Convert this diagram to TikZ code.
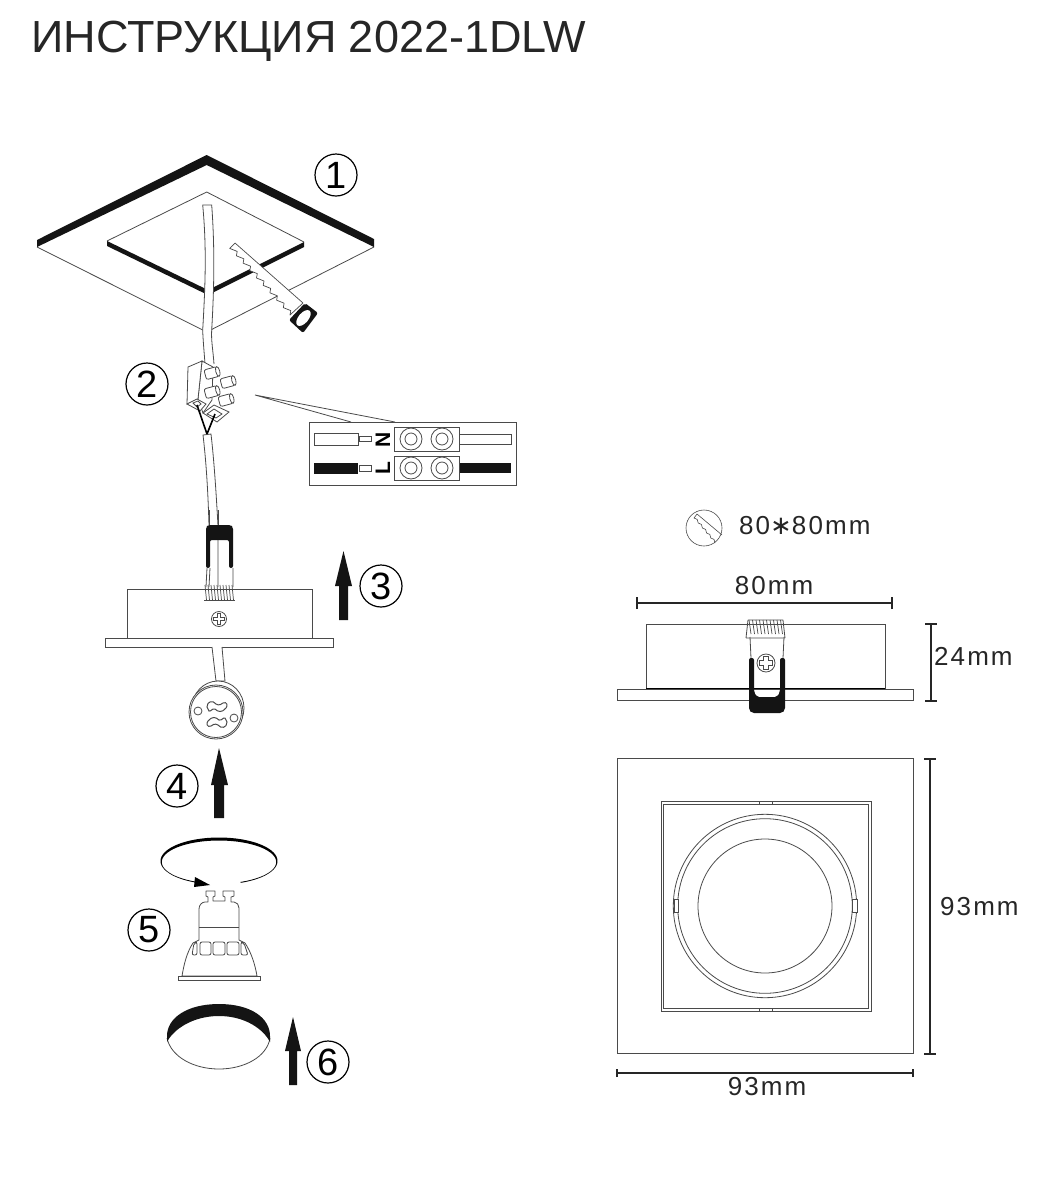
\documentclass[tikz,border=0pt]{standalone}
\usepackage{fontspec}
\setmainfont{Liberation Sans}
\newfontfamily\spaced[LetterSpace=8]{Liberation Sans}
\newfontfamily\symfont{DejaVu Sans}
\usetikzlibrary{shapes.geometric}
\definecolor{ln}{HTML}{4A4A4A}
\tikzset{
 thin line/.style={draw=ln,line width=0.8pt},
 wht/.style={thin line,fill=white},
 blk/.style={fill=black!92,draw=none},
 num/.style={circle,draw=black,line width=1.2pt,minimum size=42pt,inner sep=0pt,font=\fontsize{38}{38}\selectfont},
 dimtxt/.style={font=\spaced\fontsize{26}{26}\selectfont,inner sep=0pt,text=black!85},
 dimln/.style={draw=black!85,line width=1.3pt},
 screwpic/.pic={
  \draw[wht] (0,0) circle [radius=#1];
  \draw[thin line,fill=white] (-.25*#1,-.7*#1) -- (.25*#1,-.7*#1) -- (.25*#1,-.25*#1) -- (.7*#1,-.25*#1) -- (.7*#1,.25*#1) -- (.25*#1,.25*#1) -- (.25*#1,.7*#1) -- (-.25*#1,.7*#1) -- (-.25*#1,.25*#1) -- (-.7*#1,.25*#1) -- (-.7*#1,-.25*#1) -- (-.25*#1,-.25*#1) -- cycle;
 },
 termpic/.pic={
  \draw[wht,rounded corners=2pt] (-7,-5) rectangle (6,5);
  \draw[wht] (6,0) ellipse [x radius=2,y radius=5];
 },
 beanpic/.pic={
  \draw[wht,line width=1pt] (-10,0) .. controls (-10,-6) and (-4,-7) .. (-1,-3) .. controls (2,-1) and (5,-3) .. (6,-4) .. controls (10,-6) and (11,-1) .. (9,1) .. controls (5,6) and (1,5) .. (-2,2) .. controls (-5,1) and (-6,5) .. (-8,4) -- cycle;
 },
 termblock/.pic={
  \draw[wht] (-32.5,-12) rectangle (32.5,12);
  \foreach \cx in {-15.5,15.5}{
   \draw[thin line] (\cx,0) circle [radius=11];
   \draw[thin line] (\cx,0) circle [radius=6];
  }
 },
}
\begin{document}
\begin{tikzpicture}[x=1pt,y=-1pt]
\useasboundingbox[fill=white] (0,0) rectangle (1040,1200);
% title
\node[anchor=base west,inner sep=0pt,font=\fontsize{45}{45}\selectfont,text=black!85] (title) at (31,52) {ИНСТРУКЦИЯ 2022-1DLW};

% ---- step 1: ceiling
\draw[thin line] (37,247) -- (206.7,332) -- (374,247);
\fill[blk] (37,240) -- (206.7,155) -- (374,239) -- (374,247) -- (206.7,165) -- (37,247) -- cycle;
\draw[thin line] (107,241) -- (206.7,192) -- (304,242);
\fill[blk] (107,241) -- (208,290) -- (304,242) -- (304,247) -- (208,295) -- (107,246) -- cycle;
% saw
\draw[wht,line join=round,line width=.7pt] (235,243) -- (303,303) -- (290,315) foreach \i in {1,...,9} { -- ++(.8,-4.4) -- ++(-7.5,-3)} -- cycle;
\fill[blk,rounded corners=2pt] (305,303) -- (318,313) -- (303,333) -- (289,320) -- cycle;
\fill[white,shift={(303.5,318)},rotate=50] (0,0) ellipse [x radius=9.5,y radius=5];
% upper cable
\fill[white] (202.7,205) -- (211.7,205) .. controls (215,250) and (214,290) .. (211.7,330) .. controls (211,340) and (213,350) .. (214,364) -- (205,364) .. controls (204,350) and (203,340) .. (202.7,330) .. controls (205,290) and (207,250) .. (202.7,205) -- cycle;
\draw[thin line] (214,364) .. controls (213,350) and (211,340) .. (211.7,330) .. controls (214,290) and (215,250) .. (211.7,205) -- (202.7,205) .. controls (207,250) and (205,290) .. (202.7,330) .. controls (203,340) and (204,350) .. (205,364);
\node[num] (n1) at (336,175) {1};

% ---- step 2: connector
\node[num] (n2) at (147,384) {2};
\draw[wht] (202,361) -- (213,367) -- (212,400) -- (203,413) -- (198,399) -- cycle;
\draw[wht] (188,367) -- (202,361) -- (198,399) -- (187,404) -- cycle;
\draw[wht] (187,404) -- (197,399) -- (206,404) -- (200,411) -- cycle;
\draw[thin line] (193,403) -- (198,401) -- (201,404) -- (197,407) -- cycle;
\draw[wht] (203,413) -- (214,405) -- (229,412) -- (217,422) -- cycle;
\draw[thin line] (207,414) -- (214,409) -- (222,414) -- (216,418) -- cycle;
\pic[rotate=15] at (226,400) {termpic};
\pic[rotate=15] at (228,382) {termpic};
\pic[rotate=15] at (212,392) {termpic};
\pic[rotate=15] at (212,373) {termpic};
\draw[black,line width=1.6pt] (197,405) -- (207,434) -- (215,414);
% lower cable
\fill[white] (203,435) -- (211,434) .. controls (214,460) and (216,490) .. (218,526) -- (209,526) .. controls (208,490) and (206,460) .. (203,435) -- cycle;
\draw[thin line] (209,526) .. controls (208,490) and (206,460) .. (203,435) -- (211,434) .. controls (214,460) and (216,490) .. (218,526);
% callout
\coordinate (cs) at (255,395);
\draw[thin line] (351,422) -- (cs) -- (395,422);
\draw[wht] (309,422) rectangle (516,485);
\draw[wht] (314,433) rectangle (358,445);
\draw[wht] (359,436) rectangle (371,441);
\fill[blk] (314,463) rectangle (358,474);
\draw[wht] (359,465) rectangle (371,471);
\node[font=\bfseries\fontsize{21}{21}\selectfont,rotate=90,inner sep=0pt] (lN) at (383,440) {N};
\node[font=\bfseries\fontsize{21}{21}\selectfont,rotate=90,inner sep=0pt] (lL) at (383,468) {L};
\draw[wht] (459,434) rectangle (511,444);
\fill[blk] (459,463) rectangle (511,473);
\pic at (426.5,439) {termblock};
\pic at (426.5,468) {termblock};

% ---- step 3: housing side view
\draw[wht] (127,589) rectangle (312,638);
\draw[wht] (105,638) rectangle (333,647);
\pic at (219,619) {screwpic=7.5};
\draw[thin line] (207,568) -- (206,587) (233,568) -- (233,587) (218,540) -- (218,587) (210,568) -- (209,587);
\draw[thin line] (209,510) -- (209,526) (218,510) -- (218,526);
\fill[blk,rounded corners=2pt] (206,568) -- (206,527) -- (208,525) -- (231,525) -- (233,527) -- (233,568) -- (229,568) -- (229,540) -- (210,540) -- (210,568) -- cycle;
\foreach \p in {205,208,...,233}{
 \draw[ln,line width=.7pt] (\p,585) -- (\p+1.5,600);
}
\draw[ln,line width=.7pt] (204,600) -- (235,600);
\fill[blk] (339,620) -- (339,586) -- (335,586) -- (343.5,551) -- (352,586) -- (348,586) -- (348,620) -- cycle;
\node[num] (n3) at (381,586) {3};
% wire to socket
\draw[wht] (212,647) -- (216,681) -- (225,681) -- (222,647);
% socket
\draw[wht] (218,708) ellipse [x radius=26,y radius=27];
\draw[wht] (216,712) ellipse [x radius=27,y radius=27];
\draw[thin line] (216,712) ellipse [x radius=25.5,y radius=25.5];
\draw[thin line] (198,711) circle [radius=4];
\draw[thin line] (234,718) circle [radius=4];
\pic at (217,707) {beanpic};
\pic[rotate=180] at (217,722) {beanpic};

% ---- step 4
\fill[blk] (214,818) -- (214,785) -- (211,785) -- (219,748) -- (228,785) -- (224,785) -- (224,818) -- cycle;
\node[num] (n4) at (177,786) {4};

% ---- step 5: rotation arrow & lamp
\fill[black] plot[domain=-68:246,samples=90] ({219+58.5*cos(\x)},{861-23.5*sin(\x)}) -- plot[domain=246:-68,samples=90] ({219+57.2*cos(\x)},{862-21.5*sin(\x)}) -- cycle;
\fill[black] (210,885) -- (195,877) -- (194,887) -- cycle;
\draw[wht,line join=round] (199,940) -- (199,909) .. controls (199,905) and (202,902) .. (205,902) -- (208,902) -- (208,897) -- (206,896) -- (206,891) -- (215,891) -- (215,896) -- (213,897) -- (213,901) -- (225,901) -- (225,897) -- (223,896) -- (223,891) -- (234,891) -- (234,896) -- (231,897) -- (231,902) -- (234,902) .. controls (237,902) and (239,905) .. (239,908) -- (239,940) -- (245,943) .. controls (251,952) and (255,964) .. (257,976) -- (182,976) .. controls (184,964) and (187,952) .. (193,943) -- cycle;
\draw[thin line] (199,927) -- (239,927);
\draw[wht] (178,976) rectangle (260,980);
\draw[thin line,rounded corners=2pt] (200,942) rectangle (211,955);
\draw[thin line,rounded corners=2pt] (213,942) rectangle (225,955);
\draw[thin line,rounded corners=2pt] (227,942) rectangle (239,955);
\draw[thin line,rounded corners=2pt] (194,943) -- (197,942) -- (197,955) -- (192,955) -- cycle;
\draw[thin line,rounded corners=2pt] (241,942) -- (244,943) -- (248,955) -- (241,955) -- cycle;
\node[num] (n5) at (149,930) {5};

% ---- step 6: cover
\draw[draw=ln,line width=.8pt,fill=white] (167,1038) .. controls (171,1057) and (194,1069) .. (219,1069) .. controls (244,1069) and (267,1057) .. (270,1038);
\fill[blk] (167,1042) -- (167,1036) .. controls (167,1018) and (187,1004) .. (219,1004) .. controls (251,1004) and (270,1018) .. (270,1036) -- (270,1042) .. controls (264,1030) and (246,1016) .. (219,1016) .. controls (192,1016) and (173,1030) .. (167,1042) -- cycle;
\fill[blk] (289,1085) -- (289,1051) -- (285,1051) -- (293,1017) -- (301,1051) -- (297,1051) -- (297,1085) -- cycle;
\node[num] (n6) at (328,1062) {6};

% ---- right: hole size
\draw[thin line,line width=.6pt] (704,528) circle [radius=18];
\draw[draw=ln,line width=.6pt] (722,535) -- (697,514) -- (694,518) foreach \i in {1,...,5} { -- ++(3.2,1.4) -- ++(1,3.6)};
\node[dimtxt,anchor=base west] (hole) at (739,534) {80{\symfont∗}80mm};

% dim 80
\node[dimtxt,anchor=base] (d80) at (774,594) {80mm};
\coordinate (d80a) at (637,603); \coordinate (d80b) at (892,603);
\draw[dimln] (d80a) -- (d80b);
\draw[dimln] ([yshift=-6pt]d80a) -- ([yshift=6pt]d80a) ([yshift=-6pt]d80b) -- ([yshift=6pt]d80b);

% side view
\draw[wht] (646,624) rectangle (885,688.5);
\draw[wht] (617,689) rectangle (913,700);
\draw[draw=black,line width=.8pt] (646,688.5) -- (885,688.5);
\draw[thin line] (751,658) -- (750,637) (783,658) -- (784,637);
\foreach \p in {749,752.5,...,782}{
 \draw[ln,line width=.7pt] (\p,620) -- (\p+2,634);
}
\draw[thin line] (748,620) -- (783,620) (746,638) -- (785,638) (746,638) -- (748,620) (785,638) -- (783,620);
\fill[blk,rounded corners=2pt] (749,658) -- (754,658) -- (754,692) -- (757,697) -- (777,697) -- (780,692) -- (780,658) -- (785,658) -- (785,710) -- (782,713) -- (752,713) -- (749,710) -- cycle;
\pic at (766,663) {screwpic=9};

% dim 24
\coordinate (d24a) at (931,624); \coordinate (d24b) at (931,701);
\draw[dimln] (d24a) -- (d24b);
\draw[dimln] ([xshift=-6pt]d24a) -- ([xshift=6pt]d24a) ([xshift=-6pt]d24b) -- ([xshift=6pt]d24b);
\node[dimtxt,anchor=base west] (d24) at (934,665) {24mm};

% top view
\draw[wht] (617,758) rectangle (913,1053);
\draw[wht] (661,801) rectangle (871,1011);
\draw[thin line] (663,804) rectangle (868,1008);
\draw[thin line] (765,906) circle [radius=91.7];
\draw[thin line] (765,906) circle [radius=87.3];
\draw[thin line] (765,906) circle [radius=67];
\draw[thin line,line width=.6pt] (759,801) rectangle (772,804);
\draw[thin line,line width=.6pt] (759,1008) rectangle (772,1011);
\draw[thin line,line width=.6pt,fill=white] (674,899) rectangle (678,912);
\draw[thin line,line width=.6pt,fill=white] (852,899) rectangle (857,912);

% dim 93
\coordinate (d93a) at (930,759); \coordinate (d93b) at (930,1054);
\draw[dimln] (d93a) -- (d93b);
\draw[dimln] ([xshift=-6pt]d93a) -- ([xshift=6pt]d93a) ([xshift=-6pt]d93b) -- ([xshift=6pt]d93b);
\node[dimtxt,anchor=base west] (d93v) at (940,915) {93mm};
\coordinate (d93c) at (617,1073); \coordinate (d93d) at (913,1073);
\draw[dimln] (d93c) -- (d93d);
\draw[dimln] ([yshift=-4pt]d93c) -- ([yshift=4pt]d93c) ([yshift=-4pt]d93d) -- ([yshift=4pt]d93d);
\node[dimtxt,anchor=base] (d93h) at (767,1095) {93mm};
\end{tikzpicture}
\end{document}
